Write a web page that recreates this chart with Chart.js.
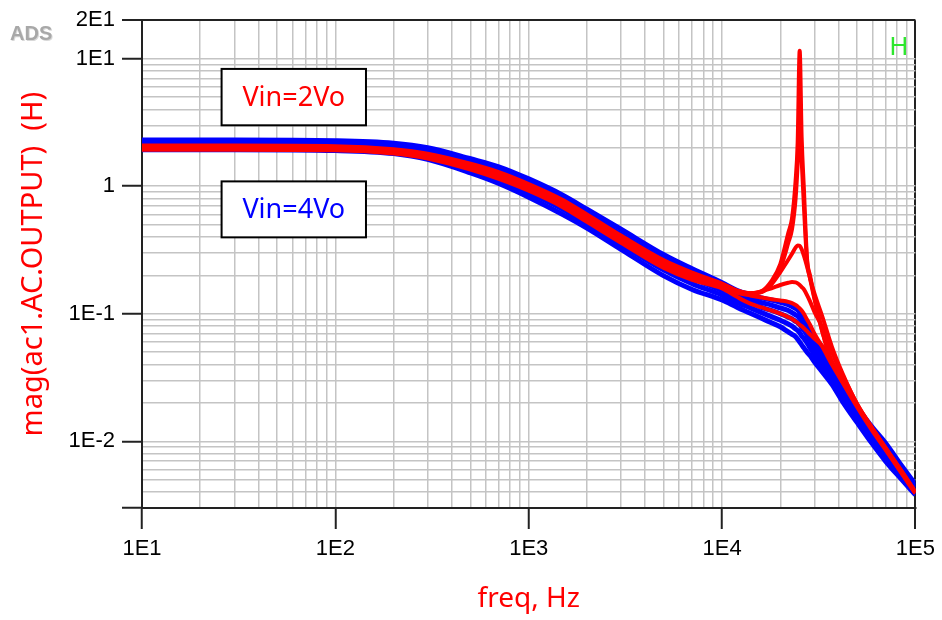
<!DOCTYPE html>
<html>
<head>
<meta charset="utf-8">
<script src="https://cdn.jsdelivr.net/npm/chart.js@4"></script>
<style>
  html, body { margin: 0; padding: 0; background: #fff; }
  #wrap { width: 942px; height: 620px; }
</style>
</head>
<body>
<div id="wrap"><canvas id="graph" width="942" height="620"></canvas></div>
<script>
/* data (freq in Hz, magnitude) */
var freqs = [10, 30, 100, 200, 300, 500, 700, 1000, 1500, 2000, 3000, 5000, 7000, 10000, 12000,
             14000, 16000, 18000, 20000, 22000, 23000, 24000, 24600, 25200, 25800, 26500, 27500,
             28500, 30000, 33000, 37000, 42000, 50000, 60000, 70000, 85000, 100000];

// Vin=2Vo family
var red1 = [2.08, 2.08, 2.06, 1.95, 1.80, 1.50, 1.29, 1.04, 0.78, 0.60, 0.41, 0.262, 0.21, 0.172, 0.152,
            0.145, 0.15, 0.18, 0.245, 0.43, 0.56, 1.1, 2.2, 11.5, 2.4, 0.95, 0.27,
            0.2, 0.135, 0.073, 0.042, 0.031, 0.019, 0.0125, 0.0089, 0.0058, 0.0040];
var red2 = [2.05, 2.05, 2.03, 1.92, 1.77, 1.47, 1.26, 1.01, 0.755, 0.58, 0.40, 0.255, 0.205, 0.17, 0.151,
            0.144, 0.148, 0.172, 0.225, 0.36, 0.46, 0.8, 1.5, 3.8, 1.6, 0.7, 0.26,
            0.19, 0.132, 0.072, 0.042, 0.031, 0.019, 0.0124, 0.0088, 0.0057, 0.0040];
var red3 = [2.02, 2.02, 2.0, 1.89, 1.74, 1.44, 1.23, 0.99, 0.735, 0.565, 0.39, 0.248, 0.2, 0.168, 0.15,
            0.145, 0.148, 0.17, 0.212, 0.265, 0.295, 0.33, 0.343, 0.34, 0.32, 0.285, 0.235,
            0.19, 0.145, 0.095, 0.055, 0.034, 0.0195, 0.0126, 0.0089, 0.0058, 0.0040];
var red4 = [1.99, 1.99, 1.97, 1.86, 1.71, 1.41, 1.2, 0.97, 0.72, 0.55, 0.38, 0.242, 0.196, 0.166, 0.149,
            0.143, 0.15, 0.158, 0.168, 0.175, 0.177, 0.176, 0.173, 0.168, 0.162, 0.155, 0.14,
            0.125, 0.104, 0.078, 0.05, 0.033, 0.0195, 0.0125, 0.0088, 0.0057, 0.0040];
var red5 = [1.96, 1.96, 1.94, 1.83, 1.68, 1.38, 1.17, 0.95, 0.705, 0.54, 0.37, 0.236, 0.19, 0.163, 0.146,
            0.139, 0.134, 0.13, 0.127, 0.124, 0.121, 0.117, 0.114, 0.11, 0.106, 0.1, 0.09,
            0.082, 0.07, 0.055, 0.04, 0.029, 0.019, 0.0123, 0.0087, 0.0056, 0.0039];
var red6 = [1.93, 1.93, 1.91, 1.80, 1.65, 1.35, 1.14, 0.92, 0.685, 0.525, 0.36, 0.228, 0.184, 0.158, 0.135,
            0.12, 0.112, 0.106, 0.1, 0.094, 0.091, 0.087, 0.085, 0.082, 0.08, 0.077, 0.073,
            0.069, 0.064, 0.056, 0.042, 0.029, 0.0185, 0.012, 0.0086, 0.0056, 0.0039];

// Vin=4Vo family
var blue1 = [2.30, 2.30, 2.27, 2.17, 2.00, 1.64, 1.42, 1.14, 0.85, 0.66, 0.46, 0.29, 0.225, 0.175, 0.152,
             0.141, 0.133, 0.128, 0.123, 0.118, 0.114, 0.110, 0.107, 0.103, 0.099, 0.094, 0.086,
             0.078, 0.067, 0.050, 0.036, 0.027, 0.0185, 0.0128, 0.0097, 0.0064, 0.0046];
var blue2 = [2.21, 2.21, 2.18, 2.08, 1.91, 1.55, 1.32, 1.05, 0.78, 0.61, 0.42, 0.265, 0.207, 0.163, 0.142,
             0.131, 0.122, 0.117, 0.111, 0.106, 0.102, 0.098, 0.096, 0.092, 0.088, 0.084, 0.077,
             0.07, 0.06, 0.046, 0.034, 0.0253, 0.0173, 0.0119, 0.009, 0.006, 0.0044];
var blue3 = [2.12, 2.12, 2.09, 1.99, 1.82, 1.46, 1.23, 0.97, 0.72, 0.56, 0.385, 0.242, 0.19, 0.152, 0.132,
             0.121, 0.112, 0.106, 0.100, 0.094, 0.091, 0.087, 0.085, 0.082, 0.078, 0.074, 0.068,
             0.062, 0.054, 0.042, 0.032, 0.0237, 0.0162, 0.011, 0.0083, 0.0057, 0.0042];
var blue4 = [2.02, 2.02, 1.99, 1.89, 1.72, 1.36, 1.14, 0.89, 0.66, 0.51, 0.35, 0.22, 0.172, 0.14, 0.122,
             0.111, 0.102, 0.095, 0.089, 0.083, 0.080, 0.076, 0.074, 0.071, 0.067, 0.064, 0.059,
             0.054, 0.048, 0.038, 0.030, 0.022, 0.015, 0.0102, 0.0076, 0.0053, 0.0040];
var blue5 = [1.93, 1.93, 1.90, 1.80, 1.62, 1.27, 1.05, 0.82, 0.60, 0.47, 0.32, 0.198, 0.155, 0.128, 0.112,
             0.101, 0.092, 0.085, 0.079, 0.072, 0.069, 0.066, 0.063, 0.060, 0.057, 0.054, 0.050,
             0.047, 0.042, 0.035, 0.028, 0.0205, 0.014, 0.0095, 0.007, 0.005, 0.0038];

var xTicks = [10, 100, 1000, 10000, 100000];
var xTickText = ["1E1", "1E2", "1E3", "1E4", "1E5"];
var yTicks = [0.01, 0.1, 1, 10, 20];
var yTickText = ["1E-2", "1E-1", "1", "1E1", "2E1"];

var noteText = ["Vin=2Vo", "Vin=4Vo"];
var noteColor = ["#ff0000", "#0000ff"];

var X_MIN = 10, X_MAX = 100000, Y_MIN = 0.003, Y_MAX = 20;

function same(a, b) { return Math.abs(Math.log10(a / b)) < 1e-6; }
function findTick(list, v) {
    for (var i = 0; i < list.length; i++) if (same(list[i], v)) return i;
    return -1;
}
// 1..9 per decade grid
function logGrid(lo, hi) {
    var out = [];
    for (var e = Math.floor(Math.log10(lo)); e <= Math.ceil(Math.log10(hi)); e++) {
        for (var m = 1; m <= 9; m++) {
            var v = m * Math.pow(10, e);
            if (v >= lo * 0.9999 && v <= hi * 1.0001) out.push({ value: v });
        }
    }
    return out;
}
function pts(vals) {
    return freqs.map(function (f, i) { return { x: f, y: vals[i] }; });
}
function line(vals, color, w, ord) {
    return {
        data: pts(vals),
        borderColor: color,
        borderWidth: w,
        pointRadius: 0,
        fill: false,
        order: ord,
        cubicInterpolationMode: "monotone"
    };
}

var edgeColor = "#222";
var gridColor = "#c4c4c4";

var notes = {
    id: "notes",
    afterDatasetsDraw: function (chart) {
        var ctx = chart.ctx, sx = chart.scales.x, sy = chart.scales.y;
        var boxes = [
            { f0: 25.8, f1: 144, v0: 8.3, v1: 3.0 },
            { f0: 25.8, f1: 144, v0: 1.09, v1: 0.397 }
        ];
        ctx.save();
        boxes.forEach(function (b, i) {
            var l = sx.getPixelForValue(b.f0), r = sx.getPixelForValue(b.f1);
            var t = sy.getPixelForValue(b.v0), btm = sy.getPixelForValue(b.v1);
            ctx.fillStyle = "#fff";
            ctx.fillRect(l, t, r - l, btm - t);
            ctx.strokeStyle = "#000";
            ctx.lineWidth = 2;
            ctx.strokeRect(l, t, r - l, btm - t);
            ctx.fillStyle = noteColor[i];
            ctx.font = '27px "Noto Sans"';
            ctx.textAlign = "center";
            ctx.textBaseline = "middle";
            ctx.fillText(noteText[i], (l + r) / 2, (t + btm) / 2 + 1);
        });
        // trace name in the corner
        ctx.fillStyle = "#2ee62e";
        ctx.font = '26px "Noto Sans"';
        ctx.textAlign = "center";
        ctx.textBaseline = "alphabetic";
        ctx.fillText("H", 899, 55);
        // program tag
        ctx.font = 'bold 20px "Liberation Sans"';
        ctx.textAlign = "left";
        ctx.fillStyle = "#d8d8d8";
        ctx.fillText("ADS", 11, 41);
        ctx.fillStyle = "#a8a8a8";
        ctx.fillText("ADS", 10, 40);
        ctx.restore();
    }
};

var graph = document.getElementById("graph").getContext("2d");

var myChart = new Chart(graph, {
    type: "line",
    data: {
        datasets: [
            line(red1, "#ff0000", 4, 1),
            line(red2, "#ff0000", 4, 1),
            line(red3, "#ff0000", 4, 1),
            line(red4, "#ff0000", 4, 1),
            line(red5, "#ff0000", 4, 1),
            line(red6, "#ff0000", 4, 1),
            line(blue1, "#0000ff", 5, 2),
            line(blue2, "#0000ff", 5, 2),
            line(blue3, "#0000ff", 5, 2),
            line(blue4, "#0000ff", 5, 2),
            line(blue5, "#0000ff", 5, 2)
        ]
    },
    options: {
        responsive: false,
        animation: false,
        layout: { padding: { left: 0, right: 24, top: 17, bottom: 0 } },
        plugins: { legend: { display: false }, tooltip: { enabled: false } },
        scales: {
            x: {
                type: "logarithmic",
                min: X_MIN,
                max: X_MAX,
                afterBuildTicks: function (s) { s.ticks = logGrid(X_MIN, X_MAX); },
                afterFit: function (s) { s.height = 112; },
                ticks: {
                    autoSkip: false,
                    minRotation: 0,
                    maxRotation: 0,
                    padding: 7,
                    color: "#000",
                    font: { family: '"Liberation Sans", Arial', size: 22 },
                    callback: function (v) {
                        var i = findTick(xTicks, v);
                        return i < 0 ? "" : xTickText[i];
                    }
                },
                grid: {
                    color: function (c) {
                        return c.tick && same(c.tick.value, X_MAX) ? edgeColor : gridColor;
                    },
                    lineWidth: function (c) {
                        return c.tick && same(c.tick.value, X_MAX) ? 2 : 1.5;
                    },
                    tickLength: 21,
                    tickWidth: 2,
                    tickColor: function (c) {
                        return c.tick && findTick(xTicks, c.tick.value) >= 0 ? edgeColor : "rgba(0,0,0,0)";
                    }
                },
                border: { display: true, color: edgeColor, width: 2 },
                title: {
                    display: true,
                    text: "freq, Hz",
                    color: "#ff0000",
                    font: { family: '"Noto Sans"', size: 28 },
                    padding: { top: 0, bottom: 4 }
                }
            },
            y: {
                type: "logarithmic",
                min: Y_MIN,
                max: Y_MAX,
                afterBuildTicks: function (s) { s.ticks = logGrid(Y_MIN, Y_MAX); },
                afterFit: function (s) { s.width = 142; },
                ticks: {
                    autoSkip: false,
                    padding: 7,
                    color: "#000",
                    font: { family: '"Liberation Sans", Arial', size: 22 },
                    callback: function (v) {
                        var i = findTick(yTicks, v);
                        return i < 0 ? "" : yTickText[i];
                    }
                },
                grid: {
                    color: function (c) {
                        return c.tick && same(c.tick.value, Y_MAX) ? edgeColor : gridColor;
                    },
                    lineWidth: function (c) {
                        return c.tick && same(c.tick.value, Y_MAX) ? 2 : 1.5;
                    },
                    tickLength: 20,
                    tickWidth: 2,
                    tickColor: function (c) {
                        if (!c.tick) return "rgba(0,0,0,0)";
                        var v = c.tick.value;
                        return findTick(yTicks, v) >= 0 || same(v, Y_MIN) ? edgeColor : "rgba(0,0,0,0)";
                    }
                },
                border: { display: true, color: edgeColor, width: 2 },
                title: {
                    display: true,
                    text: "mag(ac1.AC.OUTPUT)  (H)",
                    color: "#ff0000",
                    font: { family: '"Noto Sans"', size: 29 },
                    padding: { top: 16, bottom: 0 }
                }
            }
        }
    },
    plugins: [notes]
});
</script>
</body>
</html>
